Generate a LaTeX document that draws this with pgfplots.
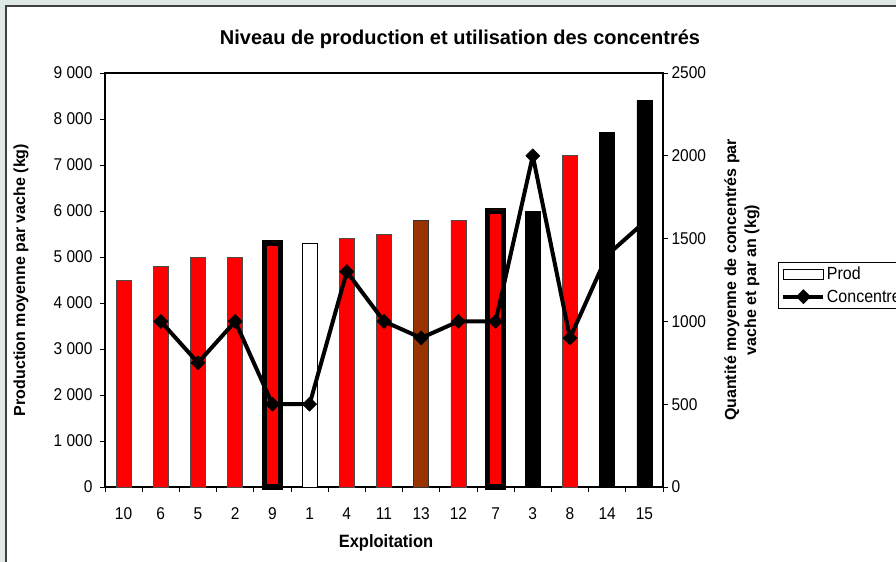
\documentclass[border=0pt]{standalone}
\usepackage{fontspec}
\setmainfont{Liberation Sans}
\usepackage{pgfplots}
\pgfplotsset{compat=1.18}
\definecolor{bgc}{RGB}{223,233,230}
\definecolor{brownbar}{RGB}{153,51,0}
\pgfplotsset{
  prodleg/.style={legend image code/.code={\draw[fill=white,draw=black,line width=0.8bp] (0bp,-5bp) rectangle (40bp,5bp);}},
  concleg/.style={legend image code/.code={\draw[mark repeat=2,mark phase=2,##1] plot coordinates {(0bp,0bp)(20bp,0bp)(40bp,0bp)};}},
}
\begin{document}
\begin{tikzpicture}
\useasboundingbox (0bp,0bp) rectangle (896bp,562bp);
\clip (0bp,0bp) rectangle (896bp,562bp);
\fill[bgc] (0bp,0bp) rectangle (896bp,562bp);
\draw[fill=white, draw=black!75, line width=1.2bp] (6bp,-10bp) rectangle (910bp,556bp);

\begin{axis}[
  at={(105bp,75bp)}, anchor=south west,
  width=558bp, height=414bp, scale only axis,
  xmin=-0.5, xmax=14.5, ymin=0, ymax=9000,
  axis line style={line width=1.2bp},
  xtick={0,...,14},
  xticklabels={10,6,5,2,9,1,4,11,13,12,7,3,8,14,15},
  minor xtick={-0.5,0.5,...,14.5},
  major x tick style={draw=none},
  minor x tick style={black,line width=0.8bp},
  ytick={0,1000,...,9000},
  ytick pos=left, xtick pos=bottom,
  tick align=outside, major tick length=5bp, minor tick length=5bp,
  major y tick style={black, line width=0.8bp},
  scaled y ticks=false,
  /pgf/number format/assume math mode=true,
  yticklabel style={/pgf/number format/1000 sep={\ }, xshift=-4bp},
  xticklabel style={yshift=-11bp},
  ticklabel style={font=\fontsize{15.5bp}{18bp}\selectfont, yscale=1.1},
  clip=false,
]
% Prod (kg/vache) -- red bars
\addplot[ybar, bar width=15bp, bar shift=0pt, fill=red, draw=black!70, line width=0.7bp]
  coordinates {(0,4500)(1,4800)(2,5000)(3,5000)(6,5400)(7,5500)(9,5800)(12,7200)};
% red bars with thick border
\addplot[ybar, bar width=16bp, bar shift=0pt, fill=red, draw=black, line width=5.5bp]
  coordinates {(4,5300)(10,6000)};
% white bar
\addplot[ybar, bar width=15bp, bar shift=0pt, fill=white, draw=black, line width=0.8bp]
  coordinates {(5,5300)};
% brown bar
\addplot[ybar, bar width=15bp, bar shift=0pt, fill=brownbar, draw=black!80, line width=0.8bp]
  coordinates {(8,5800)};
% black bars
\addplot[ybar, bar width=15bp, bar shift=0pt, fill=black, draw=black, line width=0.7bp]
  coordinates {(11,6000)(13,7700)(14,8400)};
\end{axis}

\begin{axis}[
  at={(105bp,75bp)}, anchor=south west,
  width=558bp, height=414bp, scale only axis,
  xmin=-0.5, xmax=14.5, ymin=0, ymax=2500,
  axis y line*=right, axis x line=none,
  axis line style={line width=1.2bp},
  ytick={0,500,...,2500},
  tick align=outside, major tick length=5bp,
  major y tick style={black, line width=0.8bp},
  scaled y ticks=false,
  /pgf/number format/assume math mode=true,
  yticklabel style={/pgf/number format/1000 sep={}},
  ticklabel style={font=\fontsize{15.5bp}{18bp}\selectfont, yscale=1.1},
  legend style={at={(1.2061,0.5435)}, anchor=north west, draw=black, line width=0.8bp,
    font=\fontsize{16bp}{19bp}\selectfont, inner xsep=3bp, inner ysep=3bp,
    row sep=5bp, nodes={inner sep=1.5bp, yscale=1.1}},
  legend cell align=left,
]
\addlegendimage{prodleg}
\addlegendentry{Prod}
\addplot[black, line width=4bp, line join=round, mark=square*, mark size=5bp,
  mark options={rotate=45, solid, line width=0.5bp}, concleg]
  coordinates {(1,1000)(2,750)(3,1000)(4,500)(5,500)(6,1300)(7,1000)(8,900)(9,1000)(10,1000)(11,2000)(12,900)(13,1400)(14,1600)};
\addlegendentry{Concentre}
\end{axis}

\node[anchor=base, font=\bfseries\fontsize{20bp}{24bp}\selectfont] at (460bp,517bp) {Niveau de production et utilisation des concentrés};
\node[anchor=base, font=\bfseries\fontsize{16.5bp}{20bp}\selectfont, yscale=1.08] at (386bp,15bp) {Exploitation};
\node[rotate=90, font=\bfseries\fontsize{16bp}{20bp}\selectfont] at (21bp,282bp) {Production moyenne par vache (kg)};
\node[rotate=90, align=center, font=\bfseries\fontsize{16bp}{20bp}\selectfont] at (742bp,282bp) {Quantité moyenne de concentrés par\\vache et par an (kg)};
\end{tikzpicture}
\end{document}
